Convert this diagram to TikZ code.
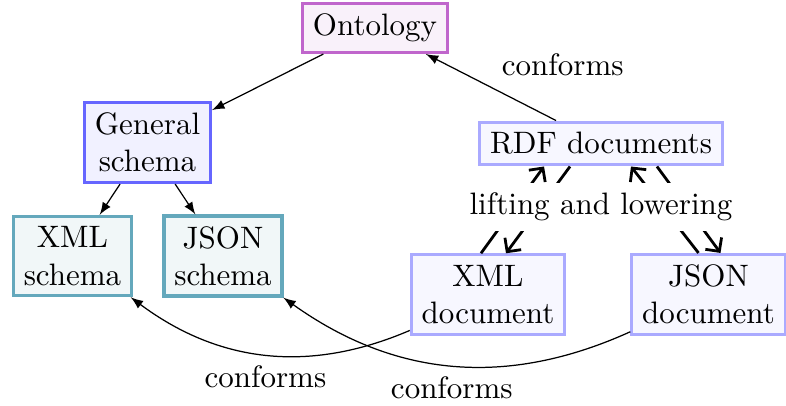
\documentclass[tikz,border=0pt]{standalone}
\usetikzlibrary{calc,arrows.meta}

\definecolor{ontoline}{RGB}{192,102,204}
\definecolor{ontofill}{RGB}{249,241,250}
\definecolor{genline}{RGB}{102,102,255}
\definecolor{genfill}{RGB}{241,241,255}
\definecolor{schline}{RGB}{100,168,188}
\definecolor{schfill}{RGB}{241,247,248}
\definecolor{docline}{RGB}{170,170,255}
\definecolor{docfill}{RGB}{247,247,255}

\begin{document}
\begin{tikzpicture}[x=0.3226pt, y=-0.3226pt,
  box/.style={draw, line width=1pt, align=center},
  ontobox/.style={box, draw=ontoline, fill=ontofill},
  genbox/.style={box, draw=genline, fill=genfill},
  schbox/.style={box, draw=schline, fill=schfill},
  docbox/.style={box, draw=docline, fill=docfill},
  link/.style={-latex},
  liftline/.style={-{Straight Barb[length=3.2pt,width=6.5pt]}, line width=0.9pt},
]
\useasboundingbox (0,0) rectangle (786,405);

% schema side
\node[ontobox] (onto) at (375,28) {Ontology};
\node[genbox]  (gen)  at (147.5,142.5) {General\\schema};
\node[schbox]  (xsch) at (72.5,256) {XML\\schema};
\node[schbox]  (jsch) at (223,256) {JSON\\schema};

% document side
\node[docbox] (rdf)  at (601,143.5) {RDF documents};
\node[docbox] (xdoc) at (488,294.5) {XML\\document};
\node[docbox] (jdoc) at (708.5,294.5) {JSON\\document};

% derivation of schemas
\draw[link] (onto) -- (gen);
\draw[link] (gen) -- (xsch);
\draw[link] (gen) -- (jsch);

% conformance
\draw[link] (rdf) -- node[above right] {conforms} (onto);
\draw[link] (xdoc) to[bend left] node[below] {conforms} (xsch);
\draw[link] (jdoc) to[bend left] node[below] {conforms} (jsch);

% lifting and lowering between documents and RDF
\draw[liftline] ($(xdoc.north)+(-7,0)$) -- ($(rdf.south)+(-57,0)$);
\draw[liftline] ($(rdf.south)+(-31,0)$) -- ($(xdoc.north)+(18,0)$);
\draw[liftline] ($(jdoc.north)+(-10,0)$) -- ($(rdf.south)+(30,0)$);
\draw[liftline] ($(rdf.south)+(56,0)$) -- ($(jdoc.north)+(12,0)$);

\node[fill=white] (lift) at (601,207) {lifting and lowering};
\end{tikzpicture}
\end{document}
